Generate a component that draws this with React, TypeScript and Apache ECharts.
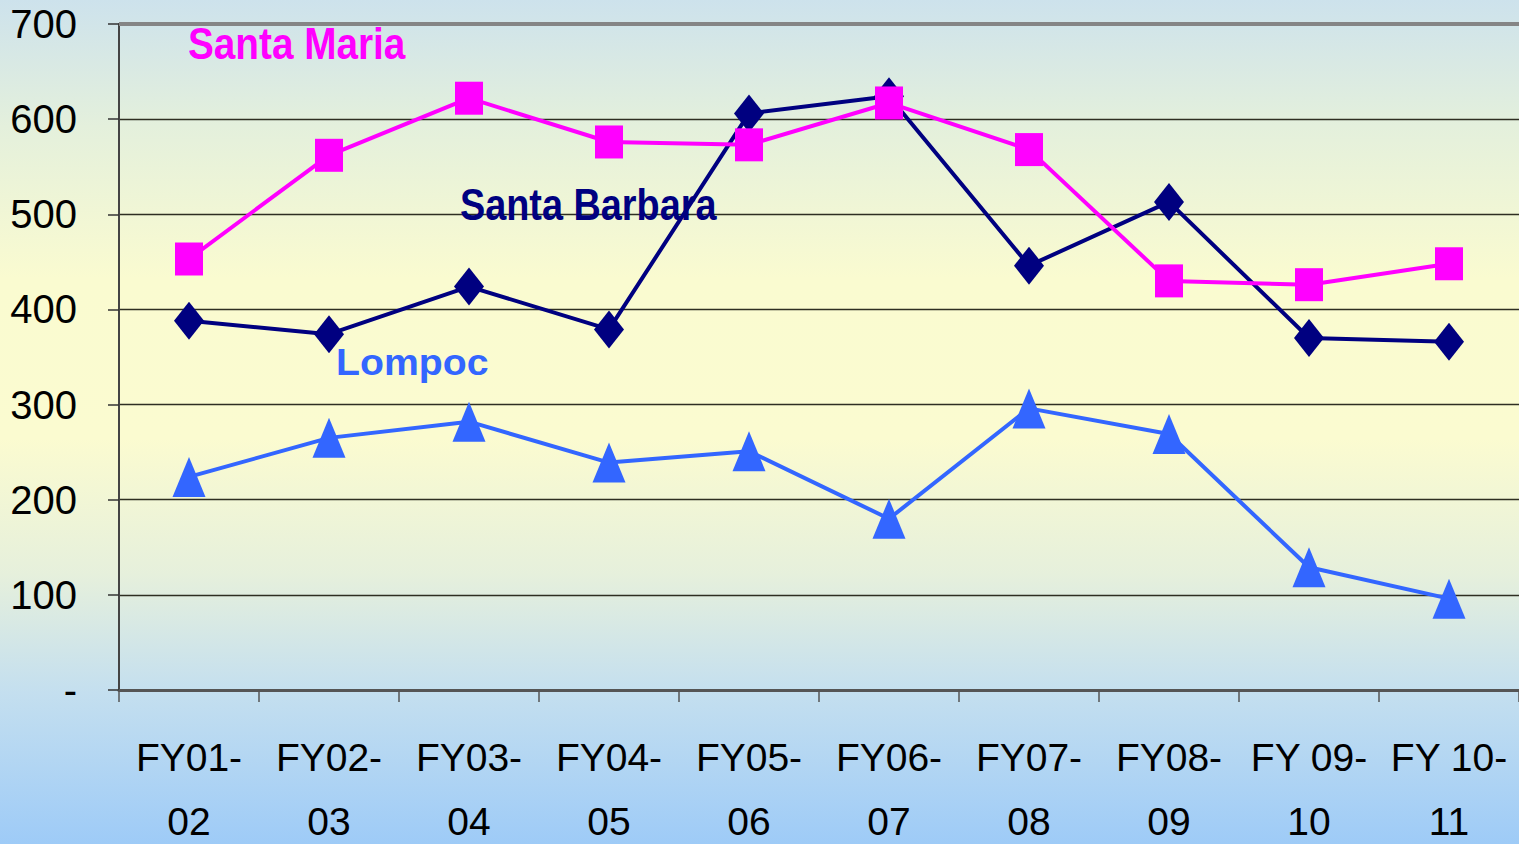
import React, { useEffect, useRef } from "react";
import * as echarts from "echarts";

const categories = ["FY01-\n02", "FY02-\n03", "FY03-\n04", "FY04-\n05", "FY05-\n06", "FY06-\n07", "FY07-\n08", "FY08-\n09", "FY 09-\n10", "FY 10-\n11"];
const santaMaria = [453, 562, 622, 576, 573, 617, 568, 430, 426, 448];
const santaBarbara = [388, 374, 424, 379, 606, 624, 446, 513, 370, 366];
const lompoc = [224, 265, 282, 239, 251, 180, 296, 269, 129, 96];
const yTicks = { min: 0, max: 700, interval: 100 };

const FONT = "'Liberation Sans', Arial, sans-serif";

export default function App() {
  const ref = useRef<HTMLDivElement>(null);
  useEffect(() => {
    if (!ref.current) return;
    const chart = echarts.init(ref.current, null, { renderer: "svg" });
    chart.setOption({
      animation: false,
      backgroundColor: new echarts.graphic.LinearGradient(0, 0, 0, 1, [
        { offset: 0, color: "#cde2ec" },
        { offset: 0.15, color: "#e4f0dc" },
        { offset: 0.33, color: "#fafbd0" },
        { offset: 0.52, color: "#fbfbd0" },
        { offset: 0.68, color: "#e6f0dc" },
        { offset: 0.82, color: "#c4dfef" },
        { offset: 1, color: "#9ecbf7" },
      ]),
      grid: { left: 119, right: 0, top: 24, height: 666, containLabel: false, outerBoundsMode: "none" },
      xAxis: {
        type: "category",
        data: categories,
        boundaryGap: true,
        axisLine: { show: true, lineStyle: { color: "#555", width: 3 } },
        axisTick: { show: true, length: 12, lineStyle: { color: "#555", width: 1.5 } },
        axisLabel: {
          margin: 35,
          color: "#000",
          fontFamily: FONT,
          fontSize: 39,
          lineHeight: 64,
          interval: 0,
        },
        splitLine: { show: false },
      },
      yAxis: {
        type: "value",
        min: yTicks.min,
        max: yTicks.max,
        interval: yTicks.interval,
        axisLine: { show: true, lineStyle: { color: "#444", width: 2 } },
        axisTick: { show: true, length: 11, lineStyle: { color: "#333", width: 1.5 } },
        axisLabel: {
          margin: 42,
          color: "#000",
          fontFamily: FONT,
          fontSize: 40,
          formatter: (v: number) => (v === 0 ? "-" : String(v)),
        },
        splitLine: { show: true, lineStyle: { color: "#2e2e22", width: 1.3 } },
      },
      graphic: [
        { type: "rect", shape: { x: 119, y: 22, width: 1400, height: 4 }, style: { fill: "#858585" }, z: 10 },
        {
          type: "text",
          x: 188,
          y: 44,
          scaleX: 0.88,
          style: { text: "Santa Maria", fill: "#ff00ff", font: `bold 44px ${FONT}`, verticalAlign: "middle" },
          z: 20,
        },
        {
          type: "text",
          x: 460,
          y: 205,
          scaleX: 0.86,
          style: { text: "Santa Barbara", fill: "#000080", font: `bold 44px ${FONT}`, verticalAlign: "middle" },
          z: 20,
        },
        {
          type: "text",
          x: 336,
          y: 362,
          scaleX: 1.06,
          style: { text: "Lompoc", fill: "#3366ff", font: `bold 37px ${FONT}`, verticalAlign: "middle" },
          z: 20,
        },
      ],
      series: [
        {
          name: "Lompoc",
          type: "line",
          data: lompoc,
          symbol: "triangle",
          symbolSize: [33, 40],
          lineStyle: { color: "#3366ff", width: 4 },
          itemStyle: { color: "#3366ff" },
          z: 3,
        },
        {
          name: "Santa Barbara",
          type: "line",
          data: santaBarbara,
          symbol: "diamond",
          symbolSize: [30, 38],
          lineStyle: { color: "#000080", width: 4 },
          itemStyle: { color: "#000080" },
          z: 4,
        },
        {
          name: "Santa Maria",
          type: "line",
          data: santaMaria,
          symbol: "rect",
          symbolSize: [28, 33],
          lineStyle: { color: "#ff00ff", width: 4 },
          itemStyle: { color: "#ff00ff" },
          z: 5,
        },
      ],
    });
    return () => chart.dispose();
  }, []);
  return <div ref={ref} style={{ position: "fixed", left: 0, top: 0, width: 1519, height: 844 }} />;
}
